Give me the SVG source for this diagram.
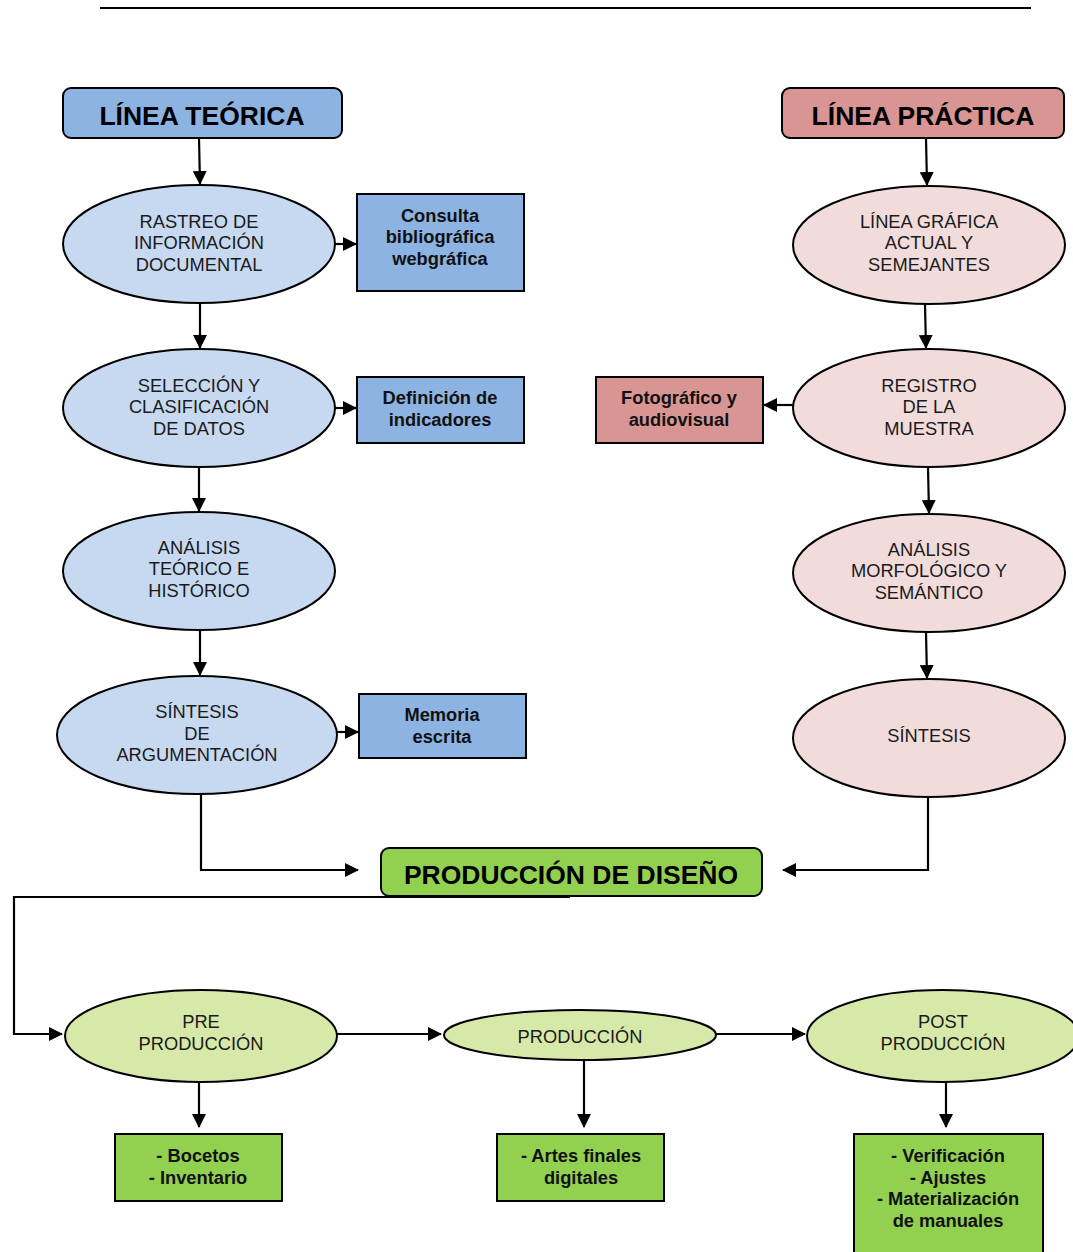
<svg xmlns="http://www.w3.org/2000/svg" width="1073" height="1252" viewBox="0 0 1073 1252">
<defs>
<marker id="ah" markerUnits="userSpaceOnUse" markerWidth="14" markerHeight="14" viewBox="0 0 14 14" refX="13" refY="7" orient="auto">
<path d="M0,0 L14,7 L0,14 Z" fill="#000"/>
</marker>
<style>
.title{font-family:"Liberation Sans",Arial,sans-serif;font-weight:bold;font-size:26.5px;fill:#000;text-anchor:middle}
.el{font-family:"Liberation Sans",Arial,sans-serif;font-size:18.3px;fill:#1a1a1a;text-anchor:middle}
.bx{font-family:"Liberation Sans",Arial,sans-serif;font-weight:bold;font-size:18.3px;fill:#111;text-anchor:middle}
.s{stroke:#000;stroke-width:2}
.conn{fill:none;stroke:#000;stroke-width:2.2;marker-end:url(#ah)}
.blue{fill:#8DB3E2}
.lblue{fill:#C6D9F1}
.red{fill:#D99594}
.lred{fill:#F2DCDB}
.green{fill:#92D050}
.lgreen{fill:#D6E9A9}
</style>
</defs>
<rect width="1073" height="1252" fill="#fff"/>
<line x1="100" y1="8" x2="1031" y2="8" stroke="#000" stroke-width="2"/>

<g id="linea-teorica"><rect x="63" y="88" width="279" height="50" rx="8" class="blue s"/><text x="202" y="125" class="title">LÍNEA TEÓRICA</text></g>
<g id="linea-practica"><rect x="782" y="88" width="282" height="50" rx="8" class="red s"/><text x="923" y="125" class="title">LÍNEA PRÁCTICA</text></g>

<g id="rastreo"><ellipse cx="199" cy="244" rx="136" ry="59" class="lblue s"/><text class="el"><tspan x="199" y="228">RASTREO DE</tspan><tspan x="199" y="249">INFORMACIÓN</tspan><tspan x="199" y="271">DOCUMENTAL</tspan></text></g>
<g id="consulta"><rect x="357" y="194" width="167" height="97" class="blue s"/><text class="bx"><tspan x="440" y="222">Consulta</tspan><tspan x="440" y="243">bibliográfica</tspan><tspan x="440" y="265">webgráfica</tspan></text></g>

<g id="seleccion"><ellipse cx="199" cy="408" rx="136" ry="59" class="lblue s"/><text class="el"><tspan x="199" y="392">SELECCIÓN Y</tspan><tspan x="199" y="413">CLASIFICACIÓN</tspan><tspan x="199" y="435">DE DATOS</tspan></text></g>
<g id="definicion"><rect x="357" y="377" width="167" height="66" class="blue s"/><text class="bx"><tspan x="440" y="404">Definición de</tspan><tspan x="440" y="426">indicadores</tspan></text></g>

<g id="analisis-teorico"><ellipse cx="199" cy="571" rx="136" ry="59" class="lblue s"/><text class="el"><tspan x="199" y="554">ANÁLISIS</tspan><tspan x="199" y="575">TEÓRICO E</tspan><tspan x="199" y="597">HISTÓRICO</tspan></text></g>

<g id="sintesis-arg"><ellipse cx="197" cy="735" rx="140" ry="59" class="lblue s"/><text class="el"><tspan x="197" y="718">SÍNTESIS</tspan><tspan x="197" y="740">DE</tspan><tspan x="197" y="761">ARGUMENTACIÓN</tspan></text></g>
<g id="memoria"><rect x="359" y="694" width="167" height="64" class="blue s"/><text class="bx"><tspan x="442" y="721">Memoria</tspan><tspan x="442" y="743">escrita</tspan></text></g>

<g id="linea-grafica"><ellipse cx="929" cy="245" rx="136" ry="59" class="lred s"/><text class="el"><tspan x="929" y="228">LÍNEA GRÁFICA</tspan><tspan x="929" y="249">ACTUAL Y</tspan><tspan x="929" y="271">SEMEJANTES</tspan></text></g>
<g id="registro"><ellipse cx="929" cy="408" rx="136" ry="59" class="lred s"/><text class="el"><tspan x="929" y="392">REGISTRO</tspan><tspan x="929" y="413">DE LA</tspan><tspan x="929" y="435">MUESTRA</tspan></text></g>
<g id="fotografico"><rect x="596" y="377" width="167" height="66" class="red s"/><text class="bx"><tspan x="679" y="404">Fotográfico y</tspan><tspan x="679" y="426">audiovisual</tspan></text></g>
<g id="analisis-morf"><ellipse cx="929" cy="573" rx="136" ry="59" class="lred s"/><text class="el"><tspan x="929" y="556">ANÁLISIS</tspan><tspan x="929" y="577">MORFOLÓGICO Y</tspan><tspan x="929" y="599">SEMÁNTICO</tspan></text></g>
<g id="sintesis"><ellipse cx="929" cy="738" rx="136" ry="59" class="lred s"/><text x="929" y="742" class="el">SÍNTESIS</text></g>

<g id="produccion-diseno"><rect x="381" y="848" width="381" height="48" rx="8" class="green s"/><text x="571" y="884" class="title">PRODUCCIÓN DE DISEÑO</text></g>

<g id="pre-produccion"><ellipse cx="201" cy="1036" rx="136" ry="46" class="lgreen s"/><text class="el"><tspan x="201" y="1028">PRE</tspan><tspan x="201" y="1050">PRODUCCIÓN</tspan></text></g>
<g id="produccion"><ellipse cx="580" cy="1035" rx="136" ry="25" class="lgreen s"/><text x="580" y="1043" class="el">PRODUCCIÓN</text></g>
<g id="post-produccion"><ellipse cx="943" cy="1036" rx="136" ry="46" class="lgreen s"/><text class="el"><tspan x="943" y="1028">POST</tspan><tspan x="943" y="1050">PRODUCCIÓN</tspan></text></g>

<g id="bocetos"><rect x="115" y="1134" width="167" height="67" class="green s"/><text class="bx"><tspan x="198" y="1162">- Bocetos</tspan><tspan x="198" y="1184">- Inventario</tspan></text></g>
<g id="artes"><rect x="497" y="1134" width="167" height="67" class="green s"/><text class="bx"><tspan x="581" y="1162">- Artes finales</tspan><tspan x="581" y="1184">digitales</tspan></text></g>
<g id="verificacion"><rect x="854" y="1134" width="189" height="130" class="green s"/><text class="bx"><tspan x="948" y="1162">- Verificación</tspan><tspan x="948" y="1184">- Ajustes</tspan><tspan x="948" y="1205">- Materialización</tspan><tspan x="948" y="1227">de manuales</tspan></text></g>

<g id="connectors">
<path class="conn" d="M199,138 L200,184"/>
<path class="conn" d="M200,303 L200,348"/>
<path class="conn" d="M199,467 L199,511"/>
<path class="conn" d="M200,630 L200,675"/>
<path class="conn" d="M335,244 L356,244"/>
<path class="conn" d="M335,408 L356,408"/>
<path class="conn" d="M337,732 L358,732"/>
<path class="conn" d="M926,138 L927,185"/>
<path class="conn" d="M925,304 L926,348"/>
<path class="conn" d="M928,467 L929,513"/>
<path class="conn" d="M926,632 L927,678"/>
<path class="conn" d="M793,405 L764,405"/>
<path class="conn" d="M201,794 V870 H358"/>
<path class="conn" d="M928,797 V870 H783"/>
<path class="conn" d="M570,897 H14 V1034 H62"/>
<path class="conn" d="M337,1034 H441"/>
<path class="conn" d="M716,1034 H805"/>
<path class="conn" d="M199,1082 V1127"/>
<path class="conn" d="M584,1060 V1127"/>
<path class="conn" d="M946,1082 V1127"/>
</g>
</svg>
